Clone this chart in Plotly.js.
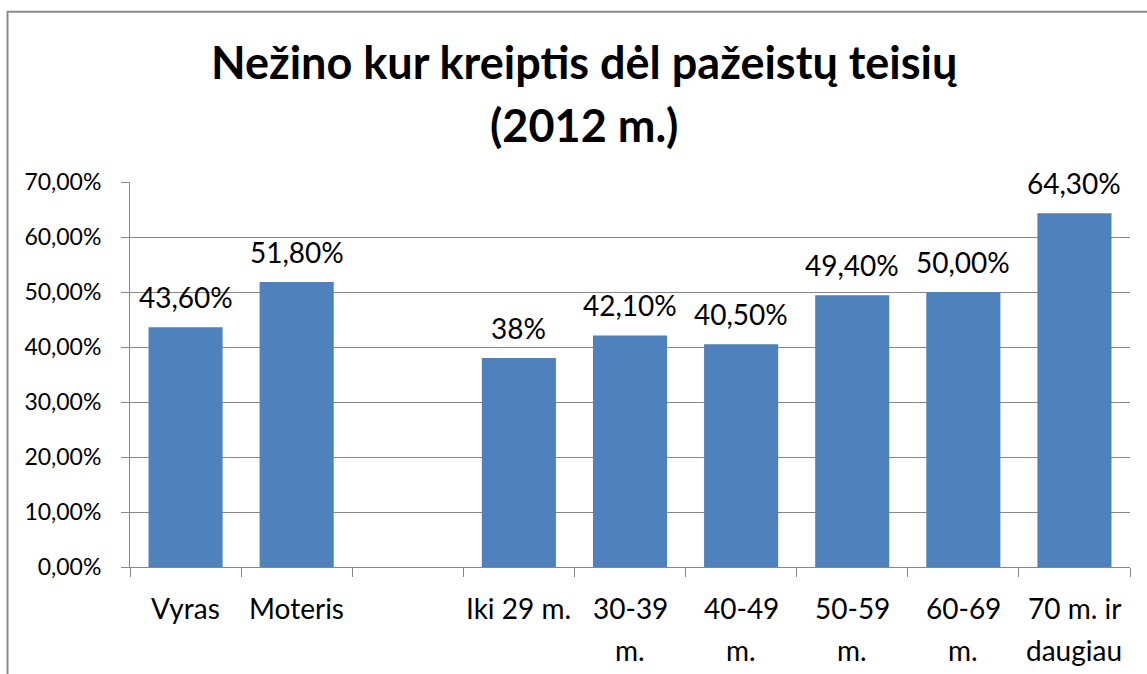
<!DOCTYPE html>
<html>
<head>
<meta charset="utf-8">
<script src="https://cdn.plot.ly/plotly-3.0.1.min.js"></script>
<style>
html,body{margin:0;padding:0;background:#fff;}
#chart{width:1147px;height:674px;}
</style>
</head>
<body>
<div id="chart"></div>
<script>
var categories = ['Vyras', 'Moteris', ' ', 'Iki 29 m.', '30-39 m.', '40-49 m.', '50-59 m.', '60-69 m.', '70 m. ir daugiau'];
var labelLine1 = ['Vyras', 'Moteris', '', 'Iki 29 m.', '30-39', '40-49', '50-59', '60-69', '70 m. ir'];
var labelLine2 = ['', '', '', '', 'm.', 'm.', 'm.', 'm.', 'daugiau'];
var values = [43.6, 51.8, null, 38, 42.1, 40.5, 49.4, 50.0, 64.3];
var valueLabels = ['43,60%', '51,80%', '', '38%', '42,10%', '40,50%', '49,40%', '50,00%', '64,30%'];
var yTicks = [0, 10, 20, 30, 40, 50, 60, 70];
var yTickText = yTicks.map(function (v) { return v.toFixed(2).replace('.', ',') + '%'; });
var titleLines = ['Nežino kur kreiptis dėl pažeistų teisių', '(2012 m.)'];

var FONT = 'Lato, "Open Sans", sans-serif';
var GRAY = '#878787';

var trace = {
  type: 'bar',
  x: categories,
  y: values,
  marker: {color: '#4F81BD', line: {width: 0}},
  hoverinfo: 'none'
};

var annotations = [];
for (var i = 0; i < categories.length; i++) {
  if (values[i] !== null) {
    annotations.push({
      x: categories[i], y: values[i], xref: 'x', yref: 'y',
      text: valueLabels[i], showarrow: false,
      yanchor: 'bottom', yshift: 11,
      font: {family: FONT, size: 28, color: '#000'}
    });
  }
  if (labelLine1[i]) {
    annotations.push({
      x: categories[i], y: 0, xref: 'x', yref: 'paper',
      text: labelLine1[i], showarrow: false,
      yanchor: 'middle', yshift: -41,
      font: {family: FONT, size: 28, color: '#000'}
    });
  }
  if (labelLine2[i]) {
    annotations.push({
      x: categories[i], y: 0, xref: 'x', yref: 'paper',
      text: labelLine2[i], showarrow: false,
      yanchor: 'middle', yshift: -83,
      font: {family: FONT, size: 28, color: '#000'}
    });
  }
}
// title lines
var titleY = [1.312, 1.148];
for (var j = 0; j < titleLines.length; j++) {
  annotations.push({
    xref: 'paper', yref: 'paper', x: 0.454, y: titleY[j],
    xanchor: 'center', yanchor: 'middle',
    text: '<b>' + titleLines[j] + '</b>', showarrow: false,
    font: {family: FONT, size: 45, color: '#000'}
  });
}

var layout = {
  width: 1147, height: 674,
  margin: {l: 130, r: 17, t: 182, b: 107},
  paper_bgcolor: '#fff', plot_bgcolor: '#fff',
  showlegend: false,
  bargap: 0.333,
  xaxis: {
    type: 'category',
    categoryorder: 'array', categoryarray: categories,
    showline: true, linecolor: GRAY, linewidth: 1,
    ticks: 'outside', tickson: 'boundaries', ticklen: 9, tickcolor: GRAY, tickwidth: 1,
    showgrid: false, zeroline: false,
    showticklabels: false,
    fixedrange: true
  },
  yaxis: {
    range: [0, 70],
    tickvals: yTicks,
    ticktext: yTickText,
    showline: true, linecolor: GRAY, linewidth: 1,
    ticks: 'outside', ticklen: 8, tickcolor: GRAY, tickwidth: 1,
    showgrid: true, gridcolor: GRAY, gridwidth: 1,
    zeroline: false,
    tickfont: {family: FONT, size: 23, color: '#000'},
    ticklabelstandoff: 15,
    fixedrange: true
  },
  annotations: annotations,
  shapes: [{
    type: 'rect', xref: 'paper', yref: 'paper',
    x0: -0.1225, x1: 1.1, y0: -0.4, y1: 1.442,
    line: {color: '#8a8a8a', width: 2}, fillcolor: 'rgba(0,0,0,0)', layer: 'below'
  }]
};

Plotly.newPlot('chart', [trace], layout, {displayModeBar: false, staticPlot: true});
</script>
</body>
</html>
